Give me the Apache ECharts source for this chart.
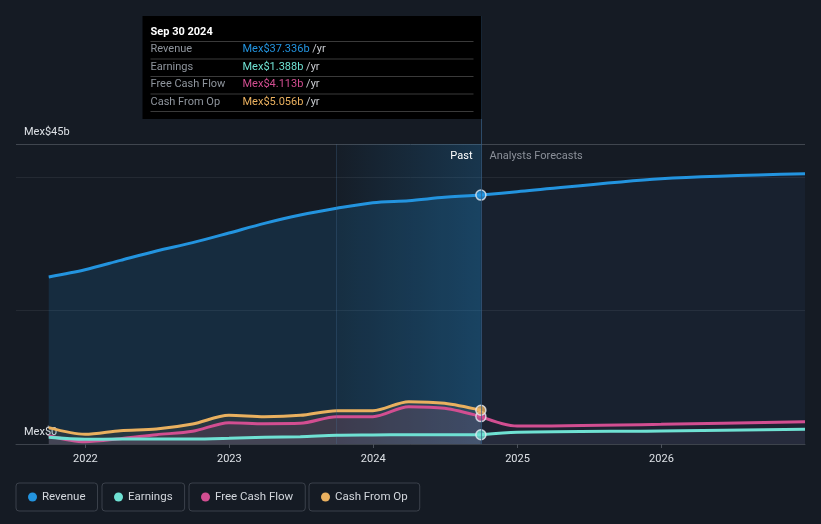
<!DOCTYPE html>
<html><head><meta charset="utf-8">
<script src="https://cdn.jsdelivr.net/npm/echarts@6/dist/echarts.min.js"></script>
<style>html,body{margin:0;padding:0;background:#151b24;}#c{width:821px;height:524px;}</style>
</head><body><div id="c"></div>
<script>
// ---- data (Mex$ billions) ----
const pastDates = ['2021-09-30','2021-12-31','2022-03-31','2022-06-30','2022-09-30','2022-12-31','2023-03-31','2023-06-30','2023-09-30','2023-12-31','2024-03-31','2024-06-30','2024-09-30'];
const revenuePast  = [25.06, 26.15, 27.55, 28.95, 30.2, 31.65, 33.1, 34.35, 35.35, 36.2, 36.5, 37.0, 37.336];
const earningsPast = [1.0, 0.7, 0.75, 0.75, 0.75, 0.85, 1.0, 1.1, 1.3, 1.35, 1.4, 1.4, 1.388];
const fcfPast      = [1.25, 0.35, 0.8, 1.4, 1.9, 3.2, 3.05, 3.1, 4.1, 4.1, 5.6, 5.35, 4.113];
const cfoPast      = [2.45, 1.45, 2.0, 2.25, 3.0, 4.3, 4.1, 4.3, 5.0, 5.0, 6.35, 6.1, 5.056];

const forecastDates = ['2024-09-30','2024-12-31','2025-12-31','2026-12-31'];
const revenueFc  = [37.336, 37.85, 39.8, 40.55];
const earningsFc = [1.388, 1.75, 1.95, 2.2];
const fcfFc      = [4.113, 2.7, 2.95, 3.35];

const yTicks = [0, 20, 40, 45];
const highlightStart = '2023-09-30';
const lastDate = '2024-09-30';
const tooltipTitle = 'Sep 30 2024';

const C = {rev:'#2394df', earn:'#6fe1d3', fcf:'#d24e91', cfo:'#e9b05f'};
const FONT = 'Roboto, "Noto Sans", sans-serif';

const pairs = (d, v) => d.map((x, i) => [x, v[i]]);
function line(name, dates, vals, color, area, z) {
  return {
    type: 'line', name, data: pairs(dates, vals), color,
    symbol: 'none', smooth: 0.3,
    lineStyle: {width: 3, color}, areaStyle: {color: area, origin: 'start'},
    z: z || 2, silent: true
  };
}

const chart = echarts.init(document.getElementById('c'), null, {renderer: 'canvas'});

const legendBox = (name, left) => ({
  data: [name], left, top: 483, orient: 'horizontal',
  icon: 'circle', itemWidth: 9, itemHeight: 9,
  borderColor: '#3b414b', borderWidth: 1, borderRadius: 3,
  padding: [8, 12, 8, 12],
  textStyle: {color: '#d3d7dd', fontSize: 11.5, fontFamily: FONT},
  selectedMode: false
});

const revPast = line('Revenue', pastDates, revenuePast, C.rev, 'rgba(35,148,223,0.21)', 2);
revPast.markArea = {
  silent: true,
  itemStyle: {
    color: new echarts.graphic.LinearGradient(0, 0, 1, 0, [
      {offset: 0, color: 'rgba(35,148,223,0.02)'},
      {offset: 1, color: 'rgba(35,148,223,0.22)'}
    ])
  },
  data: [[{xAxis: highlightStart}, {xAxis: lastDate}]]
};
revPast.markLine = {
  silent: true, symbol: 'none', label: {show: false},
  lineStyle: {color: 'rgba(70,110,150,0.3)', width: 1, type: 'solid'},
  data: [{xAxis: highlightStart}]
};

const series = [
  revPast,
  line('Revenue', forecastDates, revenueFc, C.rev, 'rgba(60,120,180,0.11)', 2),
  line('Cash From Op', pastDates, cfoPast, C.cfo, 'rgba(233,176,95,0.12)', 3),
  line('Free Cash Flow', pastDates, fcfPast, C.fcf, 'rgba(210,78,145,0.18)', 4),
  line('Free Cash Flow', forecastDates, fcfFc, C.fcf, 'rgba(210,78,145,0.05)', 4),
  line('Earnings', pastDates, earningsPast, C.earn, 'rgba(150,190,210,0.12)', 5),
  line('Earnings', forecastDates, earningsFc, C.earn, 'rgba(150,175,200,0.10)', 5),
  {
    type: 'scatter', name: 'marker', z: 10, silent: true, symbolSize: 10,
    itemStyle: {borderColor: '#e6ebf2', borderWidth: 1.5},
    data: [
      {value: [lastDate, revenuePast[revenuePast.length-1]], itemStyle: {color: C.rev}},
      {value: [lastDate, earningsPast[earningsPast.length-1]], itemStyle: {color: C.earn}},
      {value: [lastDate, fcfPast[fcfPast.length-1]], itemStyle: {color: C.fcf}},
      {value: [lastDate, cfoPast[cfoPast.length-1]], itemStyle: {color: C.cfo}}
    ]
  }
];

chart.setOption({
  animation: false,
  backgroundColor: '#151b24',
  textStyle: {fontFamily: FONT},
  grid: {left: 16, right: 16, top: 144, bottom: 80, containLabel: false},
  xAxis: {
    type: 'time', min: '2021-07-09', max: '2026-12-31',
    minInterval: 365 * 24 * 3600 * 1000, maxInterval: 366 * 24 * 3600 * 1000,
    axisLine: {lineStyle: {color: '#3d434c', width: 1}},
    axisTick: {show: true, length: 4, lineStyle: {color: '#4a505a'}},
    axisLabel: {color: '#dde1e6', fontSize: 11, margin: 10, formatter: '{yyyy}', showMinLabel: false, showMaxLabel: false},
    splitLine: {show: false}
  },
  yAxis: {
    type: 'value', min: 0, max: yTicks[3], interval: yTicks[1],
    axisLine: {show: false}, axisTick: {show: false},
    axisLabel: {
      inside: true, margin: 8, verticalAlign: 'bottom', padding: [0, 0, 6, 0],
      color: '#dde1e6', fontSize: 11,
      formatter: v => (v === 0 ? 'Mex$0' : (v === yTicks[3] ? 'Mex$45b' : ''))
    },
    splitLine: {lineStyle: {color: ['#3d434c', '#242a33', '#242a33', '#40464f'], width: 1}}
  },
  legend: [
    legendBox('Revenue', 16),
    legendBox('Earnings', 102),
    legendBox('Free Cash Flow', 189),
    legendBox('Cash From Op', 309)
  ],
  series
});

// ---- overlay: divider line, Past / Forecast labels, fixed tooltip ----
const px = chart.convertToPixel({xAxisIndex: 0, yAxisIndex: 0}, [lastDate, 0]);
const topY = chart.convertToPixel({xAxisIndex: 0, yAxisIndex: 0}, [lastDate, yTicks[3]])[1];
const lx = Math.round(px[0]) + 0.5;
const fmt = v => 'Mex$' + v.toFixed(3) + 'b';
const rows = [
  ['Revenue', revenuePast[revenuePast.length-1], C.rev],
  ['Earnings', earningsPast[earningsPast.length-1], C.earn],
  ['Free Cash Flow', fcfPast[fcfPast.length-1], C.fcf],
  ['Cash From Op', cfoPast[cfoPast.length-1], C.cfo]
];
const tipW = 339, tipX = lx - tipW, tipY = 16;
const g = [];
g.push({type: 'line', z: 50, silent: true, shape: {x1: lx, y1: tipY, x2: lx, y2: px[1]}, style: {stroke: 'rgba(55,95,135,0.7)', lineWidth: 1}});
g.push({type: 'text', z: 50, silent: true, x: lx - 9, y: topY + 12, style: {text: 'Past', fill: '#ffffff', font: '11px ' + FONT, align: 'right', verticalAlign: 'middle'}});
g.push({type: 'text', z: 50, silent: true, x: lx + 8, y: topY + 12, style: {text: 'Analysts Forecasts', fill: '#8b9099', font: '11px ' + FONT, align: 'left', verticalAlign: 'middle'}});
g.push({type: 'rect', z: 60, silent: true, shape: {x: tipX, y: tipY, width: tipW, height: 103}, style: {fill: '#000000'}});
g.push({type: 'text', z: 61, silent: true, x: tipX + 8, y: tipY + 16, style: {text: tooltipTitle, fill: '#ffffff', font: 'bold 11px ' + FONT, verticalAlign: 'middle'}});
const seps = [25, 42.5, 60, 77.5, 95];
seps.forEach(s => g.push({type: 'line', z: 61, silent: true, shape: {x1: tipX + 8, y1: tipY + s + 0.5, x2: lx - 8, y2: tipY + s + 0.5}, style: {stroke: '#3a3a3a', lineWidth: 1}}));
rows.forEach((r, i) => {
  const cy = tipY + 33.5 + i * 17.5;
  g.push({type: 'text', z: 61, silent: true, x: tipX + 8, y: cy, style: {text: r[0], fill: '#8f959d', font: '11px ' + FONT, verticalAlign: 'middle'}});
  g.push({type: 'text', z: 61, silent: true, x: tipX + 100, y: cy, style: {
    text: '{v|' + fmt(r[1]) + '} {u|/yr}', verticalAlign: 'middle', font: '11px ' + FONT,
    rich: {v: {fill: r[2], font: '11px ' + FONT}, u: {fill: '#c9ccd1', font: '11px ' + FONT}}
  }});
});
chart.setOption({graphic: g});
</script>
</body></html>
